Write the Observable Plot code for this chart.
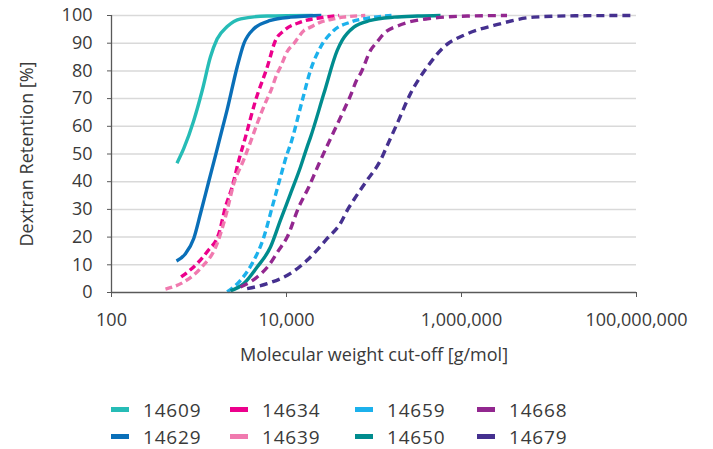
<!DOCTYPE html>
<html>
<head>
<meta charset="utf-8">
<script src="https://cdn.jsdelivr.net/npm/d3@7"></script>
<script src="https://cdn.jsdelivr.net/npm/@observablehq/plot@0.6"></script>
<style>
  html, body { margin: 0; padding: 0; background: #fff; }
  body { width: 713px; height: 449px; overflow: hidden; font-family: "Open Sans", Lato, sans-serif; color: #3a3a3a; }
  #legend { position: relative; width: 713px; height: 74px; }
  .item { position: absolute; display: flex; align-items: center; height: 27px; font-size: 19px; letter-spacing: 0.8px; }
  .sw { width: 18px; height: 5px; margin-right: 14px; }
</style>
</head>
<body>
<div id="chart"></div>
<div id="legend"></div>
<script>
// ---- data (molecular weight in g/mol, retention in %) ----
const seriesNames = ["14609", "14629", "14634", "14639", "14659", "14650", "14668", "14679"];

const mw14609  = [560, 670, 870, 1090, 1350, 1610, 2100, 3000, 6000, 20000];
const ret14609 = [46.7, 52, 62, 73, 85, 91.5, 96, 98.8, 99.8, 100];

const mw14629  = [553, 701, 871, 1040, 1288, 1545, 1841, 2099, 2729, 3251, 4236, 6561, 11117, 25000];
const ret14629 = [11.4, 14, 19.5, 28.5, 39.9, 49.5, 59, 66, 81.4, 89.8, 95.2, 98.2, 99.4, 100];

const mw14634  = [625, 955, 1259, 1687, 2009, 2393, 2851, 3388, 4426, 6026, 7482, 9333, 14454, 24547, 40000];
const ret14634 = [5.6, 10.5, 15, 21.3, 30.9, 38.1, 47.7, 56, 69.3, 81.4, 91, 94.5, 97.6, 99.2, 100];

const mw14639  = [414, 670, 1040, 1614, 2009, 2500, 3251, 4055, 4624, 6026, 6561, 7816, 8531, 10186, 12106, 15849, 18793, 24547, 34674, 44668, 79433];
const ret14639 = [1.2, 3.8, 8.7, 17.7, 27.3, 39.3, 48, 56, 61, 70, 72.5, 79, 81.4, 87, 89.8, 94.6, 95.8, 97.6, 98.8, 99.4, 100];

const mw14659  = [2099, 2979, 4055, 5508, 6871, 8531, 10186, 11117, 15136, 18793, 24491, 34674, 53703, 91201, 158489];
const ret14659 = [0.2, 4.4, 10.5, 20, 30.9, 41.7, 50.1, 53.5, 69.3, 80.2, 88.6, 94.6, 97.6, 99.2, 100];

const mw14650  = [2291, 3251, 4624, 6561, 8531, 11117, 14454, 17179, 18793, 26730, 38019, 43251, 58884, 91201, 169824, 316228, 575440];
const ret14650 = [0.6, 3.2, 9.2, 16.4, 26.1, 35.7, 45.3, 52.5, 56, 71.8, 87.4, 91, 95.8, 98.2, 99.4, 99.8, 100];

const mw14668  = [2979, 4624, 6281, 8166, 10186, 13836, 17989, 22387, 29174, 34674, 43251, 53703, 64121, 70146, 91201, 108643, 128825, 191867, 405509, 1161449, 3311311];
const ret14668 = [2, 5.6, 9.8, 15.3, 20, 30.9, 38.1, 45, 53, 58, 64.5, 71, 77, 79, 87.4, 90.5, 93.4, 96.4, 98.8, 99.8, 100];

const mw14679  = [3548, 6026, 11117, 17179, 29174, 41400, 50119, 58884, 83176, 118580, 141254, 184077, 261216, 405509, 628058, 1161449, 2344229, 6714289, 19952623, 93325430];
const ret14679 = [1.4, 3.2, 6.9, 11.6, 19.5, 25, 30, 33.5, 40.5, 47.7, 53, 61, 71.8, 81.4, 88.6, 93.4, 96.4, 99.4, 99.9, 100];

const xTicks = [100, 10000, 1000000, 100000000];
const yTicks = [0, 10, 20, 30, 40, 50, 60, 70, 80, 90, 100];

// ---- styles ----
const colors = {
  "14609": "#26bcb6", "14629": "#0a6fb8", "14634": "#ec008c", "14639": "#f07aaf",
  "14659": "#1cb1ec", "14650": "#008c8e", "14668": "#92278f", "14679": "#45308f"
};
const dashes = {
  "14609": null, "14629": null, "14634": "7,4", "14639": "7,4",
  "14659": "7,4", "14650": null, "14668": "8,5", "14679": "8,5"
};

const raw = {
  "14609": [mw14609, ret14609], "14629": [mw14629, ret14629], "14634": [mw14634, ret14634],
  "14639": [mw14639, ret14639], "14659": [mw14659, ret14659], "14650": [mw14650, ret14650],
  "14668": [mw14668, ret14668], "14679": [mw14679, ret14679]
};

const fontFamily = '"Open Sans", Lato, sans-serif';
const textColor = "#3a3a3a";
const axisColor = "#595959";

const lineMarks = seriesNames.map(name => {
  const [xs, ys] = raw[name];
  const rows = xs.map((x, i) => ({mw: x, ret: ys[i]}));
  return Plot.line(rows, {
    x: "mw", y: "ret", stroke: colors[name], strokeWidth: 3.4,
    strokeDasharray: dashes[name] || undefined, curve: "monotone-x",
    strokeLinecap: "butt", strokeLinejoin: "round"
  });
});

const chart = Plot.plot({
  width: 713,
  height: 375,
  marginTop: 15,
  marginLeft: 111,
  marginRight: 77,
  marginBottom: 83,
  style: {fontFamily, fontSize: "18px", color: textColor, background: "#fff", overflow: "visible"},
  x: {type: "log", domain: [100, 100000000]},
  y: {domain: [0, 100]},
  marks: [
    Plot.gridY(yTicks.filter(d => d > 0), {stroke: "#d9d9d9", strokeOpacity: 1, strokeWidth: 1.5}),
    ...lineMarks,
    Plot.axisY(yTicks, {tickSize: 4, tickPadding: 15, stroke: axisColor, fill: textColor, fontSize: 18, label: null, letterSpacing: "0.8px"}),
    Plot.axisX(xTicks, {tickSize: 5, tickPadding: 16, stroke: axisColor, fill: textColor, fontSize: 18, label: null, tickFormat: d3.format(","), letterSpacing: "0.8px"}),
    Plot.ruleY([0], {stroke: axisColor, strokeWidth: 1.3}),
    Plot.ruleX([100], {stroke: axisColor, strokeWidth: 1.3}),
    Plot.text(["Molecular weight cut-off [g/mol]"], {frameAnchor: "bottom", dy: 63, fontSize: 18, fill: textColor, lineAnchor: "middle", textAnchor: "middle", letterSpacing: "0.9px"}),
    Plot.text(["Dextran Retention [%]"], {frameAnchor: "left", dx: -84, rotate: -90, fontSize: 18, fill: textColor, lineAnchor: "middle", textAnchor: "middle", letterSpacing: "0.9px"})
  ]
});
document.getElementById("chart").appendChild(chart);

// ---- legend (column-major order, 4 columns x 2 rows) ----
const legendCols = [111, 230, 355, 477];
const legendRows = [21, 48];
const legend = document.getElementById("legend");
seriesNames.forEach((name, i) => {
  const col = Math.floor(i / 2), row = i % 2;
  const item = document.createElement("div");
  item.className = "item";
  item.style.left = legendCols[col] + "px";
  item.style.top = legendRows[row] + "px";
  const sw = document.createElement("span");
  sw.className = "sw";
  sw.style.background = colors[name];
  const label = document.createElement("span");
  label.textContent = name;
  item.appendChild(sw);
  item.appendChild(label);
  legend.appendChild(item);
});
</script>
</body>
</html>
